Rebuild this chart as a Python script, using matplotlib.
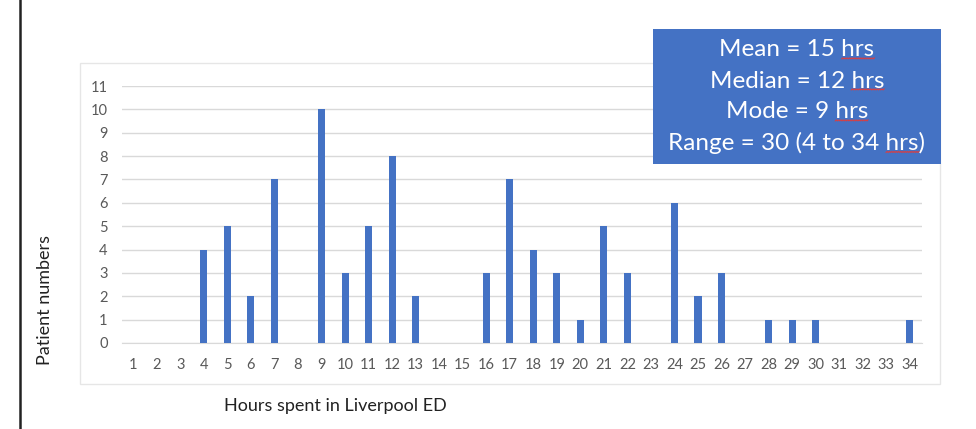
import matplotlib
matplotlib.use("Agg")
import numpy as np
import matplotlib.pyplot as plt
from matplotlib.patches import Rectangle
from matplotlib.lines import Line2D

hours = list(range(1, 35))
patients = [0, 0, 0, 4, 5, 2, 7, 0, 10, 3, 5, 8, 2, 0, 0, 3, 7, 4, 3, 1,
            5, 3, 0, 6, 2, 3, 0, 1, 1, 1, 0, 0, 0, 1]
summary = ["Mean = 15 hrs", "Median = 12 hrs", "Mode = 9 hrs",
           "Range = 30 (4 to 34 hrs)"]

W, H = 976, 429
plt.rcParams['font.family'] = ['Lato', 'DejaVu Sans']

fig = plt.figure(figsize=(W / 100, H / 100), dpi=100)
fig.patch.set_facecolor('white')

# black rule down the left edge
fig.add_artist(Line2D([20 / W, 20 / W], [0, 1], color='#222222', lw=1.8))

# faint chart-area frame
fig.add_artist(Rectangle((80 / W, (H - 384) / H), 860 / W, 321 / H,
                         fill=False, edgecolor='#e6e6e6', lw=1.0))

ax = fig.add_axes([121.5 / W, (H - 343) / H, 800 / W, 257 / H])
ax.bar(hours, patients, width=0.3, color='#4472C4', zorder=3)
ax.set_xlim(0.5, 34.5)
ax.set_ylim(0, 11)
ax.set_yticks(range(0, 12))
ax.set_xticks(hours)
ax.grid(axis='y', color='#d9d9d9', lw=1.0, zorder=0)
for s in ['top', 'right', 'left']:
    ax.spines[s].set_visible(False)
ax.spines['bottom'].set_color('#d9d9d9')
ax.tick_params(length=0, labelsize=10.5, colors='#595959')
ax.tick_params(axis='y', pad=10)
ax.tick_params(axis='x', pad=11)

fig.text(45 / W, 1 - 300 / H, "Patient numbers", rotation=90,
         ha='center', va='center', fontsize=13, color='#222222')
fig.text(335 / W, 1 - 406 / H, "Hours spent in Liverpool ED",
         ha='center', va='center', fontsize=13, color='#222222')

# summary statistics box
fig.add_artist(Rectangle((653 / W, (H - 164) / H), 288 / W, 135 / H,
                         facecolor='#4472C4', edgecolor='none', zorder=5))
ys = [50, 81, 112, 143]
texts = []
for line, y in zip(summary, ys):
    t = fig.text(797 / W, 1 - y / H, line, ha='center', va='center',
                 fontsize=17.5, color='white', zorder=6)
    texts.append(t)

# red spell-check squiggles under "hrs"
fig.canvas.draw()
r = fig.canvas.get_renderer()
for t, line in zip(texts, summary):
    bb = t.get_window_extent(r)
    i = line.rfind("hrs")
    pre = fig.text(0, 0, line[:i], fontsize=17.5)
    wrd = fig.text(0, 0, "hrs", fontsize=17.5)
    x0 = bb.x0 + pre.get_window_extent(r).width
    w = wrd.get_window_extent(r).width
    pre.remove()
    wrd.remove()
    xs = np.linspace(x0, x0 + w, 30)
    yb = bb.y0 + 1.5 + 1.2 * (np.arange(30) % 2)
    fig.add_artist(Line2D(xs / W, yb / H, color='#e03c3c', lw=0.7, zorder=7))

fig.savefig("out.png", dpi=100)
